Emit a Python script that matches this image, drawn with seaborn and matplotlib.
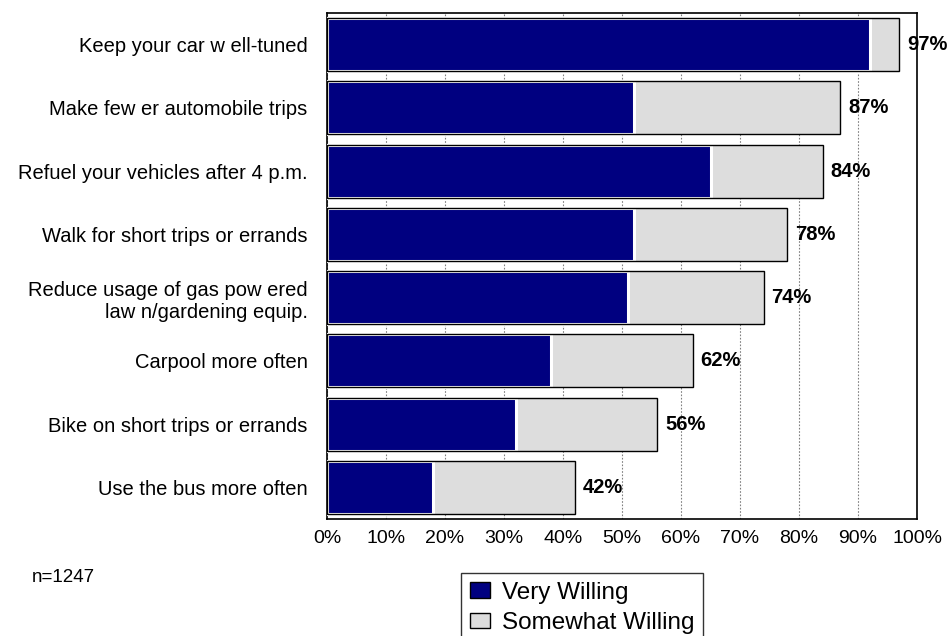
import matplotlib
matplotlib.use("Agg")
import matplotlib.pyplot as plt
from matplotlib.patches import Patch
import seaborn as sns
import pandas as pd

categories = [
    "Keep your car w ell-tuned",
    "Make few er automobile trips",
    "Refuel your vehicles after 4 p.m.",
    "Walk for short trips or errands",
    "Reduce usage of gas pow ered\nlaw n/gardening equip.",
    "Carpool more often",
    "Bike on short trips or errands",
    "Use the bus more often",
]
very_willing = [92, 52, 65, 52, 51, 38, 32, 18]
total_willing = [97, 87, 84, 78, 74, 62, 56, 42]
somewhat_willing = [t - v for t, v in zip(total_willing, very_willing)]
x_ticks = list(range(0, 101, 10))
x_tick_labels = [f"{t}%" for t in x_ticks]

df = pd.DataFrame({
    "item": categories,
    "very": very_willing,
    "total": total_willing,
})

navy = "#000080"
light = "#DDDDDD"

sns.set_theme(style="white", rc={
    "text.color": "black",
    "axes.labelcolor": "black",
    "xtick.color": "black",
    "ytick.color": "black",
})
plt.rcParams["font.family"] = ["Liberation Sans", "DejaVu Sans"]

fig = plt.figure(figsize=(9.51, 6.36), dpi=100)
ax = fig.add_axes([0.3438, 0.184, 0.6205, 0.7955])

bw = 0.84
# stacked bars: full willing total in grey, very willing in navy on top
sns.barplot(data=df, y="item", x="total", color=light, orient="h",
            width=bw, linewidth=0, saturation=1, ax=ax, zorder=2)
sns.barplot(data=df, y="item", x="very", color=navy, orient="h",
            width=bw, edgecolor="white", linewidth=2.2, saturation=1,
            ax=ax, zorder=3)
sns.barplot(data=df, y="item", x="total", orient="h", width=bw,
            fill=False, edgecolor="black", linewidth=1.0, ax=ax, zorder=4)

ax.set_xlim(0, 100)
ax.set_ylim(len(categories) - 0.5, -0.5)
ax.set_xticks(x_ticks)
ax.set_xticklabels(x_tick_labels, fontsize=14)
ax.tick_params(axis="x", length=0, pad=8)
ax.tick_params(axis="y", length=0, pad=14)
for lab in ax.get_yticklabels():
    lab.set_fontsize(14.5)
    lab.set_multialignment("right")
    lab.set_linespacing(1.25)
ax.set_xlabel("")
ax.set_ylabel("")

ax.grid(axis="x", color="#808080", linestyle=(0, (1.5, 1.5)), linewidth=0.8, zorder=0)
ax.set_axisbelow(True)
for s in ax.spines.values():
    s.set_visible(True)
    s.set_color("black")
    s.set_linewidth(1.2)

for i, t in enumerate(total_willing):
    ax.text(t + 1.3, i, f"{t}%", va="center", ha="left", fontsize=14.5,
            fontweight="bold", clip_on=False, zorder=5)

fig.text(32 / 951, 1 - 577 / 636, "n=1247", fontsize=13.5, va="center", ha="left")

handles = [
    Patch(facecolor=navy, edgecolor="black", linewidth=1.0, label="Very Willing"),
    Patch(facecolor=light, edgecolor="black", linewidth=1.0, label="Somewhat Willing"),
]
leg = fig.legend(handles=handles, loc="upper left",
                 bbox_to_anchor=(461 / 951, 1 - 573 / 636),
                 fontsize=17.5, frameon=True, fancybox=False,
                 borderaxespad=0, handlelength=0.85, handleheight=0.6,
                 handletextpad=0.5, borderpad=0.35, labelspacing=0.35)
leg.get_frame().set_edgecolor("black")
leg.get_frame().set_linewidth(1.0)

fig.savefig("out.png", dpi=100)
